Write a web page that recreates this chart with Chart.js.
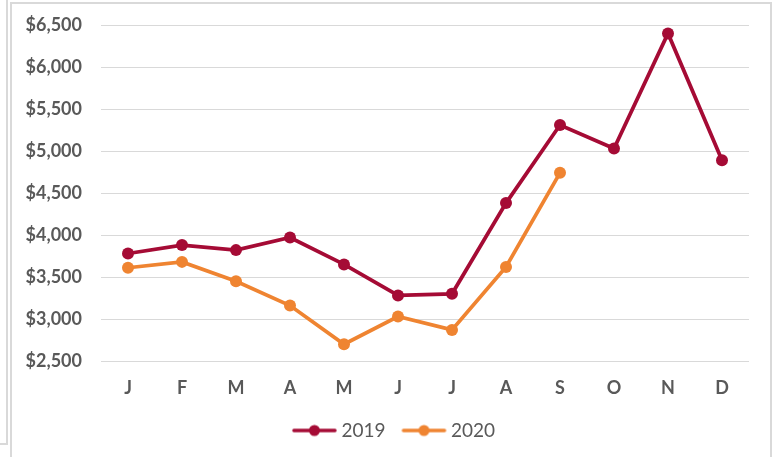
<!DOCTYPE html>
<html>
<head>
<meta charset="utf-8">
<script src="https://cdn.jsdelivr.net/npm/chart.js@4/dist/chart.umd.min.js"></script>
<style>
  html, body { margin: 0; padding: 0; background: #fff; }
  body { width: 778px; height: 457px; position: relative; overflow: hidden; }
  .panel-left { position: absolute; left: -4px; top: -4px; width: 8px; height: 445px; border: 2px solid #d9d9d9; }
  .frame { position: absolute; left: 10px; top: 2px; width: 758px; height: 470px; border: 2px solid #d9d9d9; }
  .wrap { position: absolute; left: 0; top: 0; width: 778px; height: 457px; }
</style>
</head>
<body>
<div class="panel-left"></div>
<div class="frame"></div>
<div class="wrap"><canvas id="chart"></canvas></div>
<script>
// ─── DATA ─────────────────────────────────────────────────────────────────────
const months  = ['J', 'F', 'M', 'A', 'M', 'J', 'J', 'A', 'S', 'O', 'N', 'D'];
const y2019   = [3780, 3880, 3820, 3970, 3650, 3280, 3300, 4380, 5310, 5030, 6400, 4890];
const y2020   = [3610, 3680, 3450, 3160, 2700, 3030, 2870, 3620, 4740, null, null, null];
const yTicks  = [2500, 3000, 3500, 4000, 4500, 5000, 5500, 6000, 6500];

const RED    = '#a50b35';
const ORANGE = '#ef8431';
const GREY   = '#595959';

Chart.defaults.font.family = "Lato, 'Open Sans', sans-serif";
Chart.defaults.color = GREY;

// legend marker: short line with a dot, shifted right so it sits close to the text
function legendMarker(color) {
  const c = document.createElement('canvas');
  c.width = 60; c.height = 14;
  const g = c.getContext('2d');
  g.strokeStyle = color; g.lineWidth = 3.5; g.lineCap = 'round';
  g.beginPath(); g.moveTo(12, 7); g.lineTo(53, 7); g.stroke();
  g.fillStyle = color;
  g.beginPath(); g.arc(32.5, 7, 5.5, 0, Math.PI * 2); g.fill();
  return c;
}

const fmt = v => '$' + v.toLocaleString('en-US');

new Chart(document.getElementById('chart'), {
  type: 'line',
  data: {
    labels: months,
    datasets: [
      { label: '2019', data: y2019, borderColor: RED, backgroundColor: RED,
        borderWidth: 3.75, pointRadius: 6, pointBackgroundColor: RED, pointBorderWidth: 0,
        pointStyle: 'circle', tension: 0 },
      { label: '2020', data: y2020, borderColor: ORANGE, backgroundColor: ORANGE,
        borderWidth: 3.75, pointRadius: 6, pointBackgroundColor: ORANGE, pointBorderWidth: 0,
        pointStyle: 'circle', tension: 0 },
    ],
  },
  options: {
    responsive: true, maintainAspectRatio: false, animation: false,
    layout: { padding: { left: 22, right: 13, top: 25, bottom: 7 } },
    plugins: {
      tooltip: { enabled: false },
      legend: {
        position: 'bottom',
        labels: {
          usePointStyle: true, pointStyleWidth: 40, padding: 16,
          font: { size: 19 }, color: GREY,
          generateLabels: chart => chart.data.datasets.map((ds, i) => ({
            text: ds.label, pointStyle: legendMarker(ds.borderColor),
            fillStyle: ds.borderColor, strokeStyle: ds.borderColor,
            lineWidth: 0, datasetIndex: i, hidden: false, fontColor: GREY,
          })),
        },
      },
    },
    scales: {
      x: {
        offset: true,
        grid: { display: false, drawTicks: false },
        border: { display: false },
        ticks: { padding: 16, font: { size: 18, weight: 'bold' }, color: GREY, maxRotation: 0 },
        afterFit: s => { s.height = 44; },
      },
      y: {
        min: 2500, max: 6500,
        afterBuildTicks: s => { s.ticks = yTicks.map(v => ({ value: v })); },
        grid: { color: '#d9d9d9', lineWidth: 1, drawTicks: true, tickLength: 19, tickColor: 'transparent' },
        border: { display: false },
        ticks: { padding: 0, font: { size: 18, weight: 'bold' }, color: GREY, callback: fmt },
        afterFit: s => { s.width = 79; },
      },
      // empty right-hand spacer so the legend centres where the original one does
      yRight: {
        position: 'right',
        grid: { display: false, drawTicks: false },
        border: { display: false },
        ticks: { display: false },
        afterFit: s => { s.width = 16; },
      },
    },
  },
});
</script>
</body>
</html>
